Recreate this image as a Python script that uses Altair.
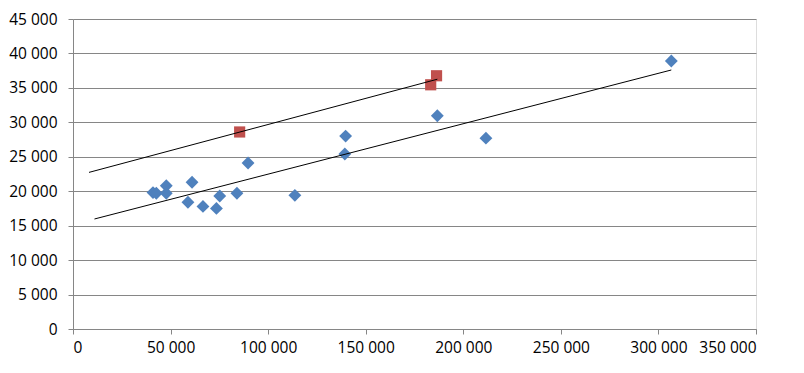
import altair as alt
import pandas as pd

# Blue series (diamonds)
blue_x = [41000, 42700, 47800, 47800, 58900, 61000, 66600, 73500, 75200, 84000,
          89700, 113700, 139700, 139300, 186700, 211600, 306600]
blue_y = [19800, 19700, 20800, 19700, 18400, 21300, 17800, 17500, 19300, 19700,
          24100, 19400, 28000, 25400, 30950, 27700, 38900]

# Red series (squares)
red_x = [85400, 183300, 186300]
red_y = [28600, 35450, 36760]

# Trend line extents (with backward forecast)
blue_extent = [11000, 306600]
red_extent = [8200, 186700]

x_ticks = [0, 50000, 100000, 150000, 200000, 250000, 300000, 350000]
y_ticks = [0, 5000, 10000, 15000, 20000, 25000, 30000, 35000, 40000, 45000]

BLUE = "#4F81BD"
RED = "#C0504D"
GRID = "#868686"
FONT = "Open Sans"
FS = 15.5

blue_df = pd.DataFrame({"x": blue_x, "y": blue_y})
red_df = pd.DataFrame({"x": red_x, "y": red_y})

lbl = "replace(format(datum.value, ','), ',', ' ')"

x_enc = alt.X("x:Q", scale=alt.Scale(domain=[0, 350000], nice=False),
              axis=alt.Axis(values=x_ticks, grid=False, title=None, labelExpr=lbl,
                            domainColor=GRID, tickColor=GRID, tickSize=5,
                            labelPadding=6, labelFont=FONT, labelFontSize=FS,
                            labelColor="#000000", labelOverlap=False))
y_enc = alt.Y("y:Q", scale=alt.Scale(domain=[0, 45000], nice=False),
              axis=alt.Axis(values=y_ticks, grid=True, gridColor=GRID, title=None,
                            labelExpr=lbl, domainColor=GRID, tickColor=GRID, tickSize=5,
                            labelPadding=11, labelFont=FONT, labelFontSize=FS,
                            labelColor="#000000", labelOverlap=False))

blue_pts = alt.Chart(blue_df).mark_point(shape="diamond", filled=True, size=165,
                                         color=BLUE, opacity=1).encode(x=x_enc, y=y_enc)
red_pts = alt.Chart(red_df).mark_point(shape="square", filled=True, size=125,
                                       color=RED, opacity=1).encode(x=x_enc, y=y_enc)

blue_line = alt.Chart(blue_df).transform_regression(
    "x", "y", extent=blue_extent).mark_line(color="#000000", strokeWidth=1).encode(x=x_enc, y=y_enc)
red_line = alt.Chart(red_df).transform_regression(
    "x", "y", extent=red_extent).mark_line(color="#000000", strokeWidth=1).encode(x=x_enc, y=y_enc)

chart = alt.layer(blue_pts, red_pts, blue_line, red_line).properties(
    width=683, height=310,
    autosize=alt.AutoSizeParams(type="none"),
    padding={"left": 65, "top": 11, "right": 40, "bottom": 35},
).configure_view(stroke=None).configure(background="white")

chart.save("out.html", embed_options={"renderer": "svg", "actions": False})
